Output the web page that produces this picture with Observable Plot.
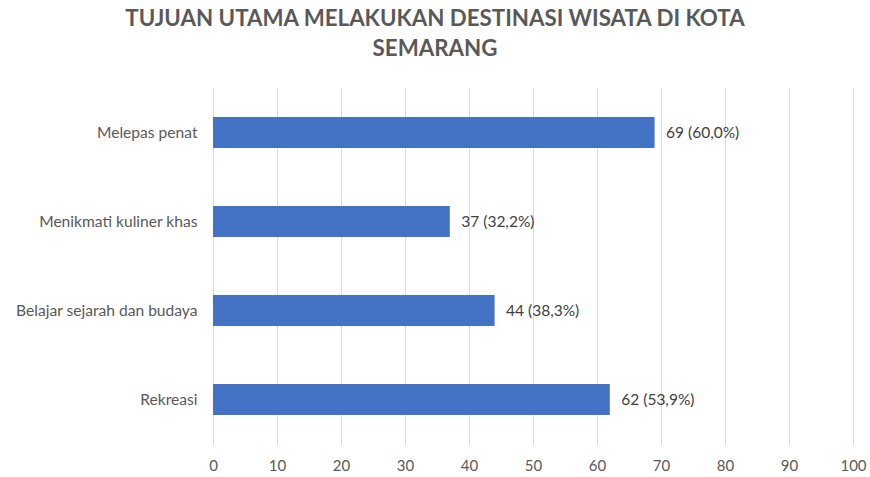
<!DOCTYPE html>
<html>
<head>
<meta charset="utf-8">
<script src="https://cdn.jsdelivr.net/npm/d3@7"></script>
<script src="https://cdn.jsdelivr.net/npm/@observablehq/plot@0.6"></script>
<style>
  body { margin: 0; background: #fff; font-family: Lato, "Open Sans", sans-serif; }
  #title { width: 870px; height: 70px; box-sizing: border-box; padding-top: 3px; text-align: center;
           font-weight: bold; font-size: 22.3px; line-height: 30px; color: #595959; }
</style>
</head>
<body>
<div id="title">TUJUAN UTAMA MELAKUKAN DESTINASI WISATA DI KOTA<br>SEMARANG</div>
<div id="chart"></div>
<script>
const categories = ["Melepas penat", "Menikmati kuliner khas", "Belajar sejarah dan budaya", "Rekreasi"];
const counts = [69, 37, 44, 62];
const percents = ["60,0%", "32,2%", "38,3%", "53,9%"];
const xTicks = [0, 10, 20, 30, 40, 50, 60, 70, 80, 90, 100];

const data = categories.map((c, i) => ({ category: c, value: counts[i], label: `${counts[i]} (${percents[i]})` }));

const chart = Plot.plot({
  width: 870,
  height: 407,
  marginLeft: 213,
  marginRight: 17,
  marginTop: 18,
  marginBottom: 32,
  style: { fontFamily: "Lato, 'Open Sans', sans-serif", fontSize: "15px", color: "#595959", background: "#fff" },
  x: { domain: [0, 100], ticks: xTicks, label: null },
  y: { domain: categories, paddingInner: 0.65, paddingOuter: 0.325, label: null },
  marks: [
    Plot.gridX(xTicks, { stroke: "#d9d9d9", strokeOpacity: 1, strokeWidth: 1 }),
    Plot.barX(data, { x: "value", y: "category", fill: "#4472C4" }),
    Plot.text(data, { x: "value", y: "category", text: "label", textAnchor: "start", dx: 11, fill: "#404040", fontSize: 15.5 }),
    Plot.axisX({ ticks: xTicks, tickSize: 0, tickPadding: 15, fontSize: 15, fill: "#595959", label: null }),
    Plot.axisY({ tickSize: 0, tickPadding: 16, fontSize: 15.6, fill: "#595959", label: null })
  ]
});
document.getElementById("chart").appendChild(chart);
</script>
</body>
</html>
